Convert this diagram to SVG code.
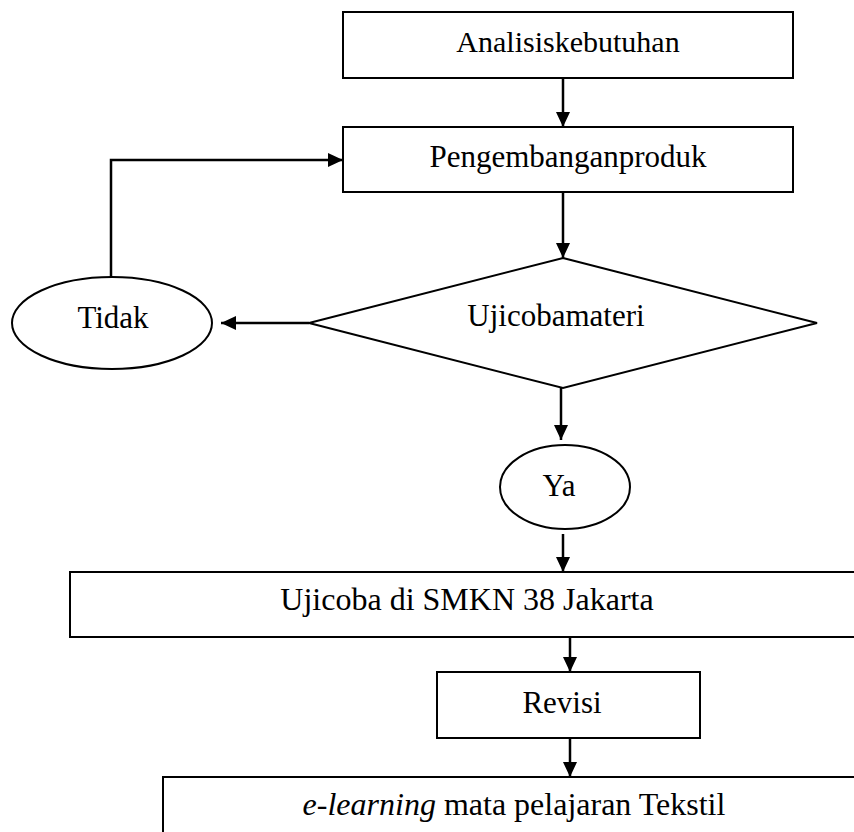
<svg xmlns="http://www.w3.org/2000/svg" width="854" height="832" viewBox="0 0 854 832">
<style>
.n{fill:#fff;stroke:#000;stroke-width:2}
.t{font-family:"Liberation Serif","Times New Roman",serif;font-size:31px;fill:#000;text-anchor:middle}
.c{fill:none;stroke:#000;stroke-width:2.5}
</style>
<defs>
<marker id="ah" markerUnits="userSpaceOnUse" markerWidth="15" markerHeight="15" refX="15" refY="7" orient="auto">
<path d="M0,0 L15,7 L0,14 z" fill="#000"/>
</marker>
</defs>
<rect width="854" height="832" fill="#fff"/>
<g id="analisis"><rect class="n" x="343" y="12" width="450" height="66"/><text class="t" x="568" y="52" style="font-size:30px">Analisiskebutuhan</text></g>
<g id="pengembangan"><rect class="n" x="343" y="127" width="450" height="65"/><text class="t" x="568" y="167">Pengembanganproduk</text></g>
<g id="ujicoba-materi"><polygon class="n" points="563,258 817,323 563,388 309,323"/><text class="t" x="556" y="326">Ujicobamateri</text></g>
<g id="tidak"><ellipse class="n" cx="112" cy="323" rx="100" ry="46"/><text class="t" x="113" y="328">Tidak</text></g>
<g id="ya"><ellipse class="n" cx="565" cy="487" rx="65" ry="42"/><text class="t" x="559" y="496">Ya</text></g>
<g id="ujicoba-smkn"><rect class="n" x="70" y="572" width="800" height="65"/><text class="t" x="467" y="610" style="font-size:32px">Ujicoba di SMKN 38 Jakarta</text></g>
<g id="revisi"><rect class="n" x="437" y="672" width="263" height="66"/><text class="t" x="562" y="713">Revisi</text></g>
<g id="elearning"><rect class="n" x="163" y="777" width="710" height="80"/><text class="t" x="514" y="815" style="font-size:32px"><tspan font-style="italic">e-learning</tspan> mata pelajaran Tekstil</text></g>
<g id="connectors">
<path class="c" d="M563,78 V127" marker-end="url(#ah)"/>
<path class="c" d="M563,192 V258" marker-end="url(#ah)"/>
<path class="c" d="M309,323 H221" marker-end="url(#ah)"/>
<path class="c" d="M111,277 V160 H343" marker-end="url(#ah)"/>
<path class="c" d="M561,388 V440" marker-end="url(#ah)"/>
<path class="c" d="M563,534 V572" marker-end="url(#ah)"/>
<path class="c" d="M570,637 V672" marker-end="url(#ah)"/>
<path class="c" d="M570,738 V777" marker-end="url(#ah)"/>
</g>
</svg>
